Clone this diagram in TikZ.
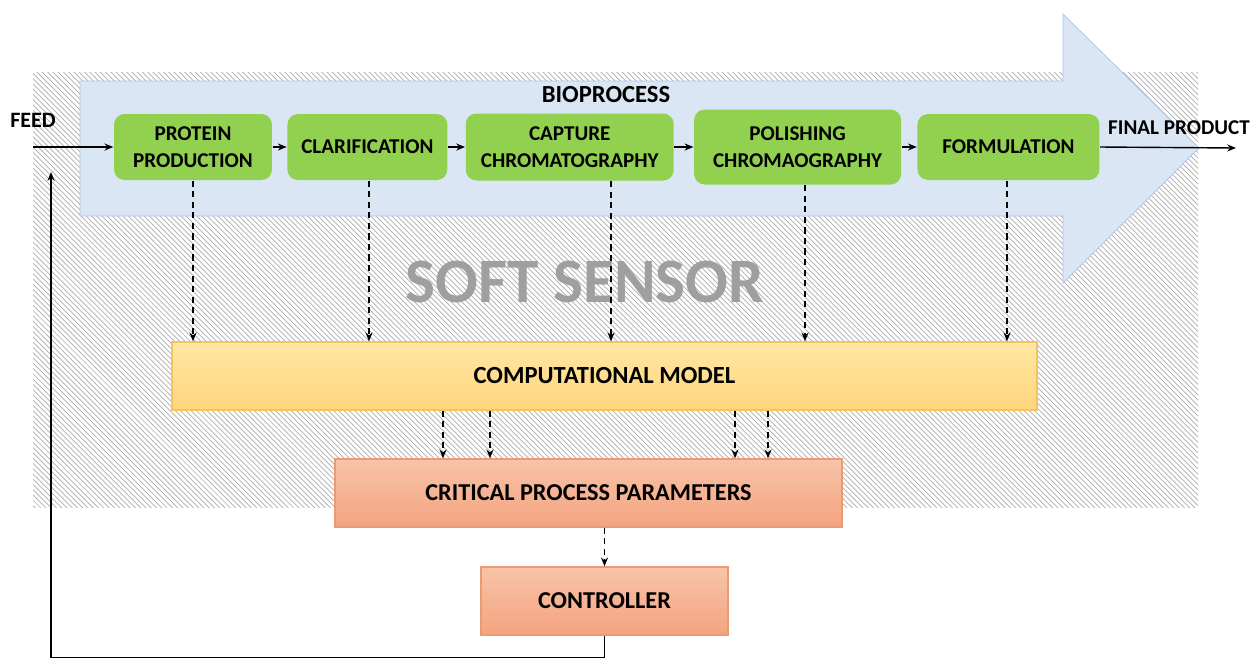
\documentclass[tikz,border=0pt]{standalone}
\usepackage{fontspec}
\setmainfont{Carlito}
\usetikzlibrary{patterns,positioning,arrows.meta}

\definecolor{bioblue}{HTML}{DAE6F4}
\definecolor{bioedge}{HTML}{A9C4E8}
\definecolor{stagegreen}{HTML}{92D050}
\definecolor{modeltop}{HTML}{FFE8A3}
\definecolor{modelbot}{HTML}{FFD47C}
\definecolor{modeledge}{HTML}{F6C45E}
\definecolor{cpptop}{HTML}{F8C3A9}
\definecolor{cppbot}{HTML}{F4A47F}
\definecolor{cppedge}{HTML}{EB9B73}

\tikzset{
  stage/.style={fill=stagegreen, rounded corners=6pt, align=center,
    font=\bfseries\fontsize{12}{15}\selectfont, minimum height=1.32cm, inner sep=2pt},
  modelbox/.style={top color=modeltop, bottom color=modelbot, draw=modeledge,
    font=\bfseries\fontsize{14}{16}\selectfont, minimum height=1.36cm},
  cppbox/.style={top color=cpptop, bottom color=cppbot, draw=cppedge,
    font=\bfseries\fontsize{13.8}{16}\selectfont, minimum height=1.36cm},
  dashline/.style={->, dashed, dash pattern=on 3.5pt off 2.5pt, line width=0.8pt},
  flow/.style={->, line width=0.8pt},
  >={Stealth[length=5pt,width=4pt]}
}

\begin{document}
\begin{tikzpicture}[x=0.02cm, y=-0.02cm, thick]
  \useasboundingbox (0,0) rectangle (1252,657);
  % soft sensor area
  \fill[pattern=north west lines, pattern color=gray!65] (33,72) rectangle (1198,507);
  \path node at (585,282) {\fontsize{36}{40}\selectfont\bfseries\color{gray!75}SOFT SENSOR};
  % bioprocess arrow
  \draw[fill=bioblue, draw=bioedge, thin] (80,81) -- (1063,81) -- (1063,14) -- (1199,148)
    -- (1063,283) -- (1063,216) -- (80,216) -- cycle;
  \path node at (606,95) {\bfseries\fontsize{14}{16}\selectfont BIOPROCESS};

  \node (prot) [stage, minimum width=3.16cm] at (193,147) {PROTEIN\\PRODUCTION};
  \node (clar) [stage, minimum width=3.2cm, right=0.28cm of prot] {CLARIFICATION};
  \node (capt) [stage, minimum width=4.16cm, minimum height=1.34cm, right=0.34cm of clar] {CAPTURE\\CHROMATOGRAPHY};
  \node (pol) [stage, minimum width=4.14cm, minimum height=1.5cm, right=0.38cm of capt] {POLISHING\\CHROMAOGRAPHY};
  \node (form) [stage, minimum width=3.64cm, right=0.3cm of pol] {FORMULATION};

  \node (feed) at (33,120) {\bfseries\fontsize{12.5}{14}\selectfont FEED};
  \node (final) at (1179,128) {\bfseries\fontsize{12}{14}\selectfont FINAL PRODUCT};
  \coordinate (in) at (33,147);
  \coordinate (out) at (1236,148);

  \node (model) [modelbox, minimum width=17.3cm] at (604.5,376) {COMPUTATIONAL MODEL};
  \node (cpp) [cppbox, minimum width=10.14cm] at (588.5,493) {CRITICAL PROCESS PARAMETERS};
  \node (ctrl) [cppbox, minimum width=4.94cm] at (604.5,601) {CONTROLLER};

  \draw[flow] (in) -- (prot);
  \draw[flow] (prot) -- (clar);
  \draw[flow] (clar) -- (capt);
  \draw[flow] (capt) -- (pol);
  \draw[flow] (pol) -- (form);
  \draw[flow] (form.east) -- (out);

  \foreach \s/\x in {prot/193, clar/369, capt/611, pol/805, form/1007}
    \draw[dashline] (\x,0 |- \s.south) -- (\x,0 |- model.north);
  \foreach \x in {443, 490, 735, 768}
    \draw[dashline] (\x,0 |- model.south) -- (\x,0 |- cpp.north);
  \draw[dashline] (ctrl.north |- cpp.south) -- (ctrl.north);

  % feedback
  \coordinate (fb) at (51,172);
  \draw[flow] (ctrl.south) -- (604.5,657.5) -| (fb);
\end{tikzpicture}
\end{document}
